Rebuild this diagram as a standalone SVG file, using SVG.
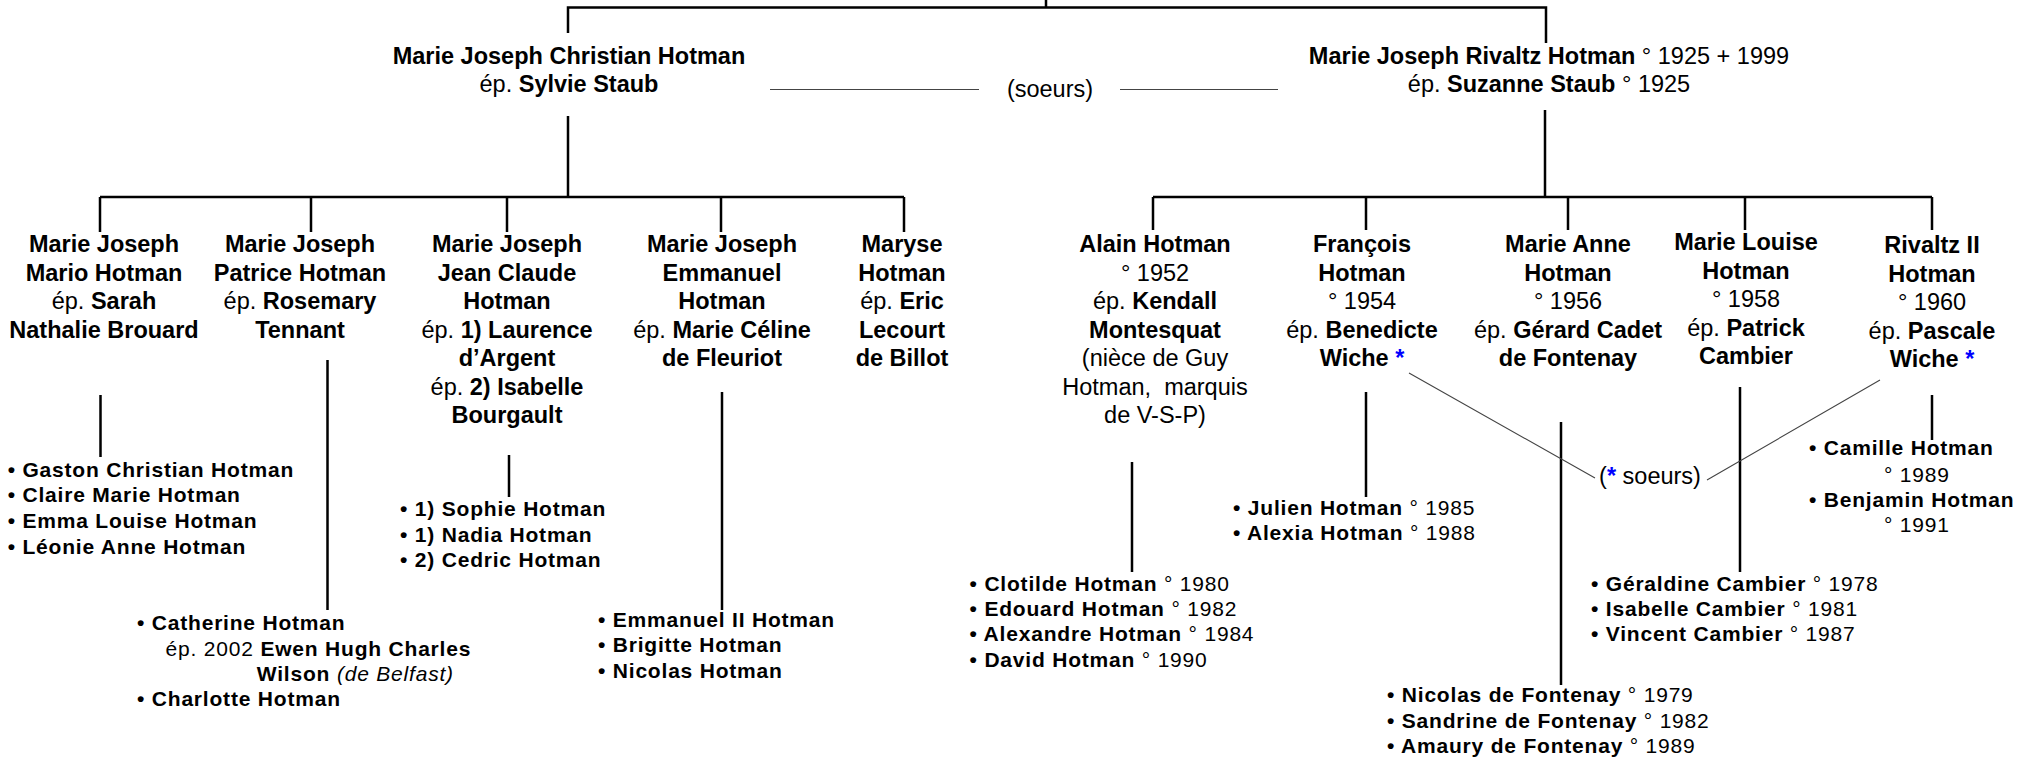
<svg xmlns="http://www.w3.org/2000/svg" width="2033" height="760" viewBox="0 0 2033 760">
<style>
text{font-family:"Liberation Sans",Arial,sans-serif;fill:#000}
.n{font-size:23.5px;font-weight:400;text-anchor:middle}
.li{font-size:21px;font-weight:700;letter-spacing:0.8px}
.b{font-weight:700}
.r{font-weight:400}
.i{font-style:italic;font-weight:400}
.ast{fill:#0000ff;font-weight:700}
.ln{stroke:#000;stroke-width:2.5;fill:none}
.thin{stroke:#444;stroke-width:1.1;fill:none}
</style>
<rect width="2033" height="760" fill="#fff"/>
<g id="connectors">
<path class="ln" d="M1046,0 V7.5 M568,33 V7.5 H1546 V43"/>
<path class="ln" d="M568,116 V197 M100,197 H904 M100,197 V232 M311,197 V232 M507,197 V232 M721,197 V232 M904,197 V232"/>
<path class="ln" d="M1545,110 V197 M1153,197 H1932 M1153,197 V230 M1366,197 V230 M1568,197 V230 M1745,197 V230 M1932,197 V230"/>
<path class="ln" d="M100.5,395 V457 M327.5,360 V610 M509,455 V497 M722,392 V610 M1132,462 V572 M1366,392 V497 M1561,422 V685 M1740,387 V572 M1932,395 V440"/>
<path class="thin" d="M770,89.5 H979 M1120,89.5 H1278"/>
<path class="thin" d="M1409,373 L1595,478 M1880,380 L1707,480"/>
</g>
<g id="soeurs-top"><text class="n" x="1050" y="97">(soeurs)</text></g>
<g id="soeurs-bottom"><text class="n" x="1650" y="484">(<tspan class="ast">*</tspan> soeurs)</text></g>

<g id="node-christian">
<text class="n" x="569" y="64"><tspan class="b">Marie Joseph Christian Hotman</tspan></text>
<text class="n" x="569" y="92">ép. <tspan class="b">Sylvie Staub</tspan></text>
</g>
<g id="node-rivaltz">
<text class="n" x="1549" y="64"><tspan class="b">Marie Joseph Rivaltz Hotman</tspan> ° 1925 + 1999</text>
<text class="n" x="1549" y="92">ép. <tspan class="b">Suzanne Staub</tspan> ° 1925</text>
</g>

<g id="node-mario">
<text class="n b" x="104" y="252">Marie Joseph</text>
<text class="n b" x="104" y="280.5">Mario Hotman</text>
<text class="n" x="104" y="309">ép. <tspan class="b">Sarah</tspan></text>
<text class="n b" x="104" y="337.5">Nathalie Brouard</text>
</g>
<g id="node-patrice">
<text class="n b" x="300" y="252">Marie Joseph</text>
<text class="n b" x="300" y="280.5">Patrice Hotman</text>
<text class="n" x="300" y="309">ép. <tspan class="b">Rosemary</tspan></text>
<text class="n b" x="300" y="337.5">Tennant</text>
</g>
<g id="node-jeanclaude">
<text class="n b" x="507" y="252">Marie Joseph</text>
<text class="n b" x="507" y="280.5">Jean Claude</text>
<text class="n b" x="507" y="309">Hotman</text>
<text class="n" x="507" y="337.5">ép. <tspan class="b">1) Laurence</tspan></text>
<text class="n b" x="507" y="366">d’Argent</text>
<text class="n" x="507" y="394.5">ép. <tspan class="b">2) Isabelle</tspan></text>
<text class="n b" x="507" y="423">Bourgault</text>
</g>
<g id="node-emmanuel">
<text class="n b" x="722" y="252">Marie Joseph</text>
<text class="n b" x="722" y="280.5">Emmanuel</text>
<text class="n b" x="722" y="309">Hotman</text>
<text class="n" x="722" y="337.5">ép. <tspan class="b">Marie Céline</tspan></text>
<text class="n b" x="722" y="366">de Fleuriot</text>
</g>
<g id="node-maryse">
<text class="n b" x="902" y="252">Maryse</text>
<text class="n b" x="902" y="280.5">Hotman</text>
<text class="n" x="902" y="309">ép. <tspan class="b">Eric</tspan></text>
<text class="n b" x="902" y="337.5">Lecourt</text>
<text class="n b" x="902" y="366">de Billot</text>
</g>

<g id="node-alain">
<text class="n b" x="1155" y="252">Alain Hotman</text>
<text class="n" x="1155" y="280.5">° 1952</text>
<text class="n" x="1155" y="309">ép. <tspan class="b">Kendall</tspan></text>
<text class="n b" x="1155" y="337.5">Montesquat</text>
<text class="n" x="1155" y="366">(nièce de Guy</text>
<text class="n" x="1155" y="394.5">Hotman,&#160; marquis</text>
<text class="n" x="1155" y="423">de V-S-P)</text>
</g>
<g id="node-francois">
<text class="n b" x="1362" y="252">François</text>
<text class="n b" x="1362" y="280.5">Hotman</text>
<text class="n" x="1362" y="309">° 1954</text>
<text class="n" x="1362" y="337.5">ép. <tspan class="b">Benedicte</tspan></text>
<text class="n b" x="1362" y="366">Wiche <tspan class="ast">*</tspan></text>
</g>
<g id="node-marieanne">
<text class="n b" x="1568" y="252">Marie Anne</text>
<text class="n b" x="1568" y="280.5">Hotman</text>
<text class="n" x="1568" y="309">° 1956</text>
<text class="n" x="1568" y="337.5">ép. <tspan class="b">Gérard Cadet</tspan></text>
<text class="n b" x="1568" y="366">de Fontenay</text>
</g>
<g id="node-marielouise">
<text class="n b" x="1746" y="250">Marie Louise</text>
<text class="n b" x="1746" y="278.5">Hotman</text>
<text class="n" x="1746" y="307">° 1958</text>
<text class="n" x="1746" y="335.5">ép. <tspan class="b">Patrick</tspan></text>
<text class="n b" x="1746" y="364">Cambier</text>
</g>
<g id="node-rivaltz2">
<text class="n b" x="1932" y="253">Rivaltz II</text>
<text class="n b" x="1932" y="281.5">Hotman</text>
<text class="n" x="1932" y="310">° 1960</text>
<text class="n" x="1932" y="338.5">ép. <tspan class="b">Pascale</tspan></text>
<text class="n b" x="1932" y="367">Wiche <tspan class="ast">*</tspan></text>
</g>

<g id="kids-mario">
<text class="li" x="7.7" y="476.7">• Gaston Christian Hotman</text>
<text class="li" x="7.7" y="502.3">• Claire Marie Hotman</text>
<text class="li" x="7.7" y="528.3">• Emma Louise Hotman</text>
<text class="li" x="7.7" y="554">• Léonie Anne Hotman</text>
</g>
<g id="kids-patrice">
<text class="li" x="137" y="630">• Catherine Hotman</text>
<text class="li" x="165.6" y="655.5"><tspan class="r">ép. 2002 </tspan>Ewen Hugh Charles</text>
<text class="li" x="256.8" y="681">Wilson <tspan class="i">(de Belfast)</tspan></text>
<text class="li" x="137" y="706">• Charlotte Hotman</text>
</g>
<g id="kids-jeanclaude">
<text class="li" x="400" y="516">• 1) Sophie Hotman</text>
<text class="li" x="400" y="541.7">• 1) Nadia Hotman</text>
<text class="li" x="400" y="566.7">• 2) Cedric Hotman</text>
</g>
<g id="kids-emmanuel">
<text class="li" x="598" y="626.7">• Emmanuel II Hotman</text>
<text class="li" x="598" y="652.3">• Brigitte Hotman</text>
<text class="li" x="598" y="677.7">• Nicolas Hotman</text>
</g>
<g id="kids-alain">
<text class="li" x="969.6" y="590.7">• Clotilde Hotman <tspan class="r">° 1980</tspan></text>
<text class="li" x="969.6" y="616">• Edouard Hotman <tspan class="r">° 1982</tspan></text>
<text class="li" x="969.6" y="641">• Alexandre Hotman <tspan class="r">° 1984</tspan></text>
<text class="li" x="969.6" y="666.7">• David Hotman <tspan class="r">° 1990</tspan></text>
</g>
<g id="kids-francois">
<text class="li" x="1233" y="515">• Julien Hotman <tspan class="r">° 1985</tspan></text>
<text class="li" x="1233" y="540">• Alexia Hotman <tspan class="r">° 1988</tspan></text>
</g>
<g id="kids-marieanne">
<text class="li" x="1387" y="702">• Nicolas de Fontenay <tspan class="r">° 1979</tspan></text>
<text class="li" x="1387" y="727.5">• Sandrine de Fontenay <tspan class="r">° 1982</tspan></text>
<text class="li" x="1387" y="753">• Amaury de Fontenay <tspan class="r">° 1989</tspan></text>
</g>
<g id="kids-marielouise">
<text class="li" x="1591" y="590.7">• Géraldine Cambier <tspan class="r">° 1978</tspan></text>
<text class="li" x="1591" y="616">• Isabelle Cambier <tspan class="r">° 1981</tspan></text>
<text class="li" x="1591" y="641">• Vincent Cambier <tspan class="r">° 1987</tspan></text>
</g>
<g id="kids-rivaltz2">
<text class="li" x="1809" y="455">• Camille Hotman</text>
<text class="li r" x="1884" y="481.7">° 1989</text>
<text class="li" x="1809" y="506.7">• Benjamin Hotman</text>
<text class="li r" x="1884" y="531.7">° 1991</text>
</g>
</svg>
